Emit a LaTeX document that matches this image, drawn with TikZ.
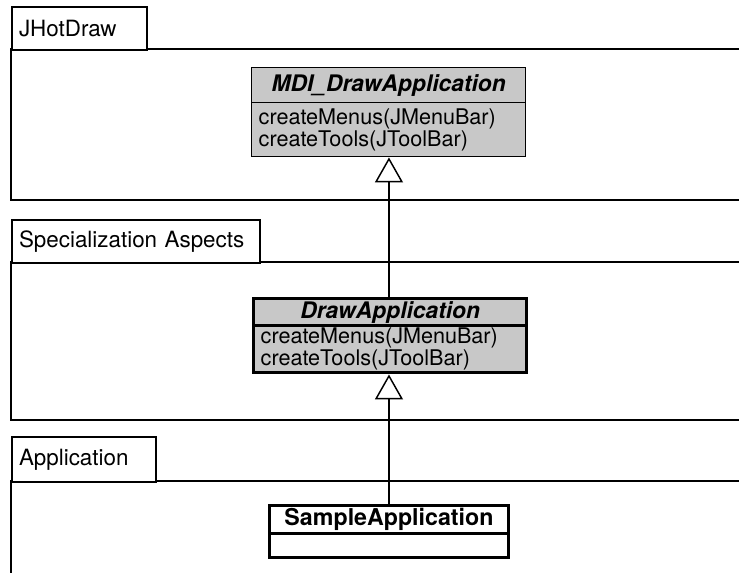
\documentclass[tikz,border=0pt]{standalone}
\usepackage{fontspec}
\setmainfont{TeX Gyre Heros}
\usetikzlibrary{arrows.meta}
\def\pxu{0.75pt}
\definecolor{classgray}{RGB}{200,200,200}
\tikzset{
  pkgline/.style={draw=black, line width=1.5pt},
  pkgtab/.style={pkgline, fill=white, rectangle, anchor=north west,
    inner xsep=7*\pxu, inner ysep=0pt, align=left,
    font=\fontsize{16.8}{18}\selectfont},
  classname/.style={draw=black, fill=classgray, rectangle, anchor=north west,
    inner sep=0pt, font=\fontsize{17.1}{18}\selectfont\bfseries\itshape},
  classops/.style={draw=black, fill=classgray, rectangle, anchor=north west,
    inner xsep=7*\pxu, inner ysep=0pt, align=left,
    font=\fontsize{16.2}{15}\selectfont},
  plainname/.style={draw=black, fill=white, rectangle, anchor=north west,
    inner sep=0pt, font=\fontsize{17.4}{18}\selectfont\bfseries},
  inherit/.style={draw=black, line width=1.1pt,
    -{Triangle[open, length=25*\pxu, width=28*\pxu, line width=1.1pt]}}
}
\begin{document}
\begin{tikzpicture}[x=0.75pt, y=-0.75pt]
  \useasboundingbox (0,0) rectangle (739,573);
  \fill[white] (0,0) rectangle (739,573);
  \begin{scope}
    \clip (0,0) rectangle (739,573);

    % package JHotDraw
    \draw[pkgline] (11,49) rectangle (780,200);
    \node[pkgtab, minimum width=135*\pxu, minimum height=43*\pxu,
          text width=121*\pxu] (pkgjhd) at (11,6) {JHotDraw};

    % package Specialization Aspects
    \draw[pkgline] (11,262) rectangle (780,420);
    \node[pkgtab, minimum width=248*\pxu, minimum height=43*\pxu,
          text width=234*\pxu] (pkgspec) at (11,219) {Specialization Aspects};

    % package Application
    \draw[pkgline] (11,481) rectangle (780,620);
    \node[pkgtab, minimum width=144*\pxu, minimum height=45*\pxu,
          text width=130*\pxu] (pkgapp) at (11,436) {Application};

    % abstract class MDI_DrawApplication
    \node[classname, line width=1.1pt, minimum width=274*\pxu, minimum height=35*\pxu]
      (mdiname) at (251,67) {MDI\_DrawApplication};
    \node[classops, line width=1.1pt, minimum width=274*\pxu, minimum height=54*\pxu,
          text width=260*\pxu]
      (mdiops) at (251,102) {createMenus(JMenuBar)\\createTools(JToolBar)};

    % abstract class DrawApplication (specialization aspect)
    \node[classname, line width=2.6pt, minimum width=273*\pxu, minimum height=27*\pxu]
      (daname) at (252,297) {DrawApplication};
    \node[classops, line width=2.6pt, minimum width=273*\pxu, minimum height=47*\pxu,
          text width=259*\pxu]
      (daops) at (252,324) {createMenus(JMenuBar)\\createTools(JToolBar)};

    % concrete class SampleApplication
    \node[plainname, line width=2.2pt, minimum width=239*\pxu, minimum height=28*\pxu]
      (saname) at (268,504) {SampleApplication};
    \node[plainname, line width=2.2pt, minimum width=239*\pxu, minimum height=24*\pxu]
      (saops) at (268,532) {};

    % generalizations
    \draw[inherit] (saname.north) -- (saname.north |- daops.south);
    \draw[inherit] (daname.north -| saname.north) -- (saname.north |- mdiops.south);
  \end{scope}
\end{tikzpicture}
\end{document}
